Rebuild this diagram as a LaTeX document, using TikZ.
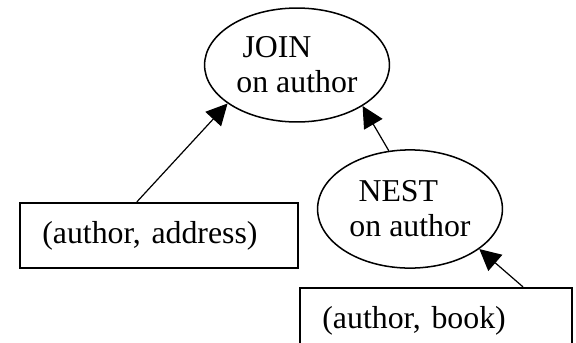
\documentclass[tikz,border=0pt]{standalone}
\usepackage{fontspec}
\setmainfont{Liberation Serif}
\usepackage{tikz}
\usetikzlibrary{shapes.geometric,arrows.meta,positioning,backgrounds}
\tikzset{
  plan/.style={x=0.33pt,y=-0.33pt,font=\fontsize{10.5}{11.5}\selectfont},
  opnode/.style={draw,ellipse,line width=0.5pt,inner sep=0pt,align=left,
    minimum width=61pt,minimum height=#1},
  relbox/.style={draw,rectangle,line width=0.7pt,inner xsep=7.3pt,inner ysep=0pt,
    align=left,minimum height=21.5pt,text width=#1},
  link/.style={-{Triangle[length=7pt,width=7pt]},line width=0.4pt},
}
\begin{document}
\begin{tikzpicture}[plan]
  \useasboundingbox (0,0) rectangle (576,342);
  \clip (0,0) rectangle (576,342);
  \node (join) at (297, 65) [opnode=37.6pt] {\hspace*{2pt}JOIN\\on author};
  \node (nest) at (410, 209) [opnode=39pt] {\hspace*{3pt}NEST\\on author};
  \node (addr) at (159, 235.5) [relbox=77pt] {(author, address)};
  \node (book) at (436, 320.5) [relbox=75pt] {(author, book)};

  \begin{scope}[on background layer]
    \draw [link] ([xshift=-7.3pt]addr.north) -- (join.209);
    \draw [link] (nest.110) -- (join.328);
    \draw [link] ([xshift=28.7pt]book.north) -- (nest.330);
  \end{scope}
\end{tikzpicture}
\end{document}
